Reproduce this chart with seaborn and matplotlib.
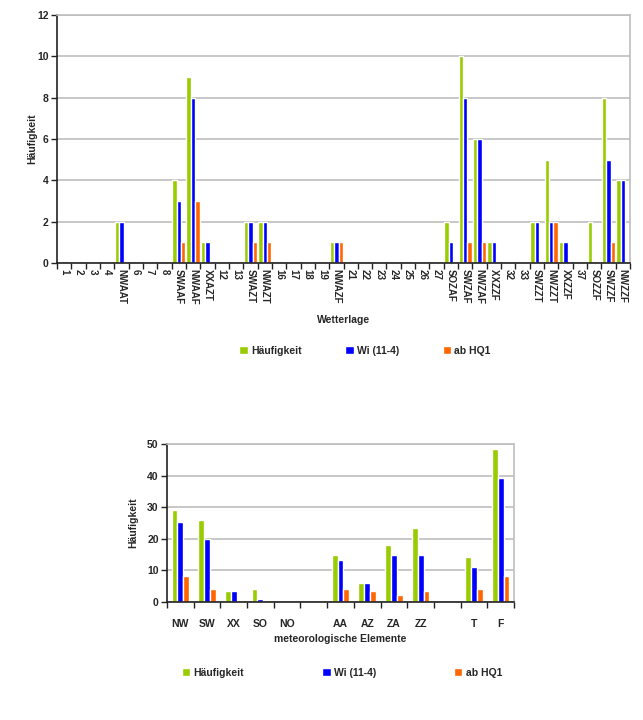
import numpy as np
import pandas as pd
import matplotlib
matplotlib.use('Agg')
import matplotlib.pyplot as plt
import seaborn as sns

# Daten oberes Diagramm (Wetterlagen)
wetterlagen = ['1', '2', '3', '4', 'NWAAT', '6', '7', '8', 'SWAAF', 'NWAAF',
               'XXAZT', '12', '13', 'SWAZT', 'NWAZT', '16', '17', '18', '19', 'NWAZF',
               '21', '22', '23', '24', '25', '26', '27', 'SOZAF', 'SWZAF', 'NWZAF',
               'XXZZF ', '32', '33', 'SWZZT', 'NWZZT', 'XXZZF', '37', 'SOZZF', 'SWZZF', 'NWZZF']
haeufigkeit_wl = [0, 0, 0, 0, 2, 0, 0, 0, 4, 9,
                  1, 0, 0, 2, 2, 0, 0, 0, 0, 1,
                  0, 0, 0, 0, 0, 0, 0, 2, 10, 6,
                  1, 0, 0, 2, 5, 1, 0, 2, 8, 4]
wi_wl = [0, 0, 0, 0, 2, 0, 0, 0, 3, 8,
         1, 0, 0, 2, 2, 0, 0, 0, 0, 1,
         0, 0, 0, 0, 0, 0, 0, 1, 8, 6,
         1, 0, 0, 2, 2, 1, 0, 0, 5, 4]
hq1_wl = [0, 0, 0, 0, 0, 0, 0, 0, 1, 3,
          0, 0, 0, 1, 1, 0, 0, 0, 0, 1,
          0, 0, 0, 0, 0, 0, 0, 0, 1, 1,
          0, 0, 0, 0, 2, 0, 0, 0, 1, 0]

# Daten unteres Diagramm (meteorologische Elemente)
elemente = ['NW', 'SW', 'XX', 'SO', 'NO', ' ', 'AA', 'AZ', 'ZA', 'ZZ', '  ', 'T', 'F']
haeufigkeit_el = [29, 26, 3.4, 4.2, 0, 0, 15, 6, 18, 23.4, 0, 14.3, 48.3]
wi_el = [25.3, 20, 3.4, 1.1, 0, 0, 13.2, 6, 15, 15, 0, 11, 39.3]
hq1_el = [8.3, 4.2, 0, 0, 0, 0, 4.2, 3.4, 2.3, 3.4, 0, 4.2, 8.3]

serien = ['Häufigkeit', 'Wi (11-4)', 'ab HQ1']
farben = ['#99CC00', '#0000FF', '#FF6600']

sns.set_style('white')
plt.rcParams['font.family'] = ['Liberation Sans', 'DejaVu Sans']
plt.rcParams['font.weight'] = 'bold'
plt.rcParams['axes.labelweight'] = 'bold'


def long_table(cats, a, b, c):
    n = len(cats)
    return pd.DataFrame({
        'kat': list(cats) * 3,
        'wert': list(a) + list(b) + list(c),
        'serie': [serien[0]] * n + [serien[1]] * n + [serien[2]] * n,
    })


def style_axes(ax, n, ymax, ystep):
    ax.set_xlim(-0.5, n - 0.5)
    ax.set_ylim(0, ymax)
    ax.set_yticks(np.arange(0, ymax + 0.1, ystep))
    ax.yaxis.grid(True, color='#BEBEBE', linewidth=1.2)
    ax.set_axisbelow(True)
    for s in ['left', 'bottom']:
        ax.spines[s].set_color('#222222')
        ax.spines[s].set_linewidth(1.2)
    for s in ['top', 'right']:
        ax.spines[s].set_visible(True)
        ax.spines[s].set_color('#BEBEBE')
        ax.spines[s].set_linewidth(1.2)
    ax.set_xticks(np.arange(-0.5, n, 1), minor=True)
    ax.tick_params(axis='x', which='major', length=0, pad=4)
    ax.tick_params(axis='x', which='minor', length=4, width=1, color='#222222', direction='out')
    ax.tick_params(axis='y', length=4, width=1, color='#222222', direction='out', labelsize=7.5, pad=2)
    ax.tick_params(axis='y', left=True)
    ax.tick_params(axis='x', bottom=True, which='both')


fig = plt.figure(figsize=(6.43, 7.2), dpi=100)

# Oberes Diagramm
ax1 = fig.add_axes([57 / 643, 457 / 720, 573 / 643, 248 / 720])
df1 = long_table(wetterlagen, haeufigkeit_wl, wi_wl, hq1_wl)
sns.barplot(data=df1, x='kat', y='wert', hue='serie', order=wetterlagen,
            hue_order=serien, palette=farben, width=0.92, gap=0,
            saturation=1, ax=ax1, legend=True)
style_axes(ax1, len(wetterlagen), 12, 2)
ax1.set_xticks(range(len(wetterlagen)))
ax1.set_xticklabels(wetterlagen, rotation=-90, fontsize=7, va='top', ha='center')
ax1.set_xlabel('Wetterlage', fontsize=7.5, labelpad=8)
ax1.set_ylabel('Häufigkeit', fontsize=7.5)
ax1.yaxis.set_label_coords(-20 / 573, 0.5)
handles, labels = ax1.get_legend_handles_labels()
ax1.get_legend().remove()
fig.legend(handles, labels, loc='center', bbox_to_anchor=(365 / 643, 1 - 351 / 720),
           ncol=3, frameon=False, fontsize=7.5, handlelength=0.8, handleheight=0.8,
           handletextpad=0.3, columnspacing=4.2)

# Unteres Diagramm
ax2 = fig.add_axes([167 / 643, 118 / 720, 347 / 643, 158 / 720])
df2 = long_table(elemente, haeufigkeit_el, wi_el, hq1_el)
sns.barplot(data=df2, x='kat', y='wert', hue='serie', order=elemente,
            hue_order=serien, palette=farben, width=0.66, gap=0,
            saturation=1, ax=ax2, legend=True)
style_axes(ax2, len(elemente), 50, 10)
ax2.set_xticks(range(len(elemente)))
ax2.set_xticklabels(elemente, fontsize=7.5)
ax2.tick_params(axis='x', which='major', pad=12)
ax2.set_xlabel('meteorologische Elemente', fontsize=7.5, labelpad=4)
ax2.set_ylabel('Häufigkeit', fontsize=7.5)
ax2.yaxis.set_label_coords(-29 / 347, 0.5)
handles, labels = ax2.get_legend_handles_labels()
ax2.get_legend().remove()
fig.legend(handles, labels, loc='center', bbox_to_anchor=(342 / 643, 1 - 673 / 720),
           ncol=3, frameon=False, fontsize=7.5, handlelength=0.8, handleheight=0.8,
           handletextpad=0.3, columnspacing=7.5)

fig.savefig('out.png', dpi=100)
